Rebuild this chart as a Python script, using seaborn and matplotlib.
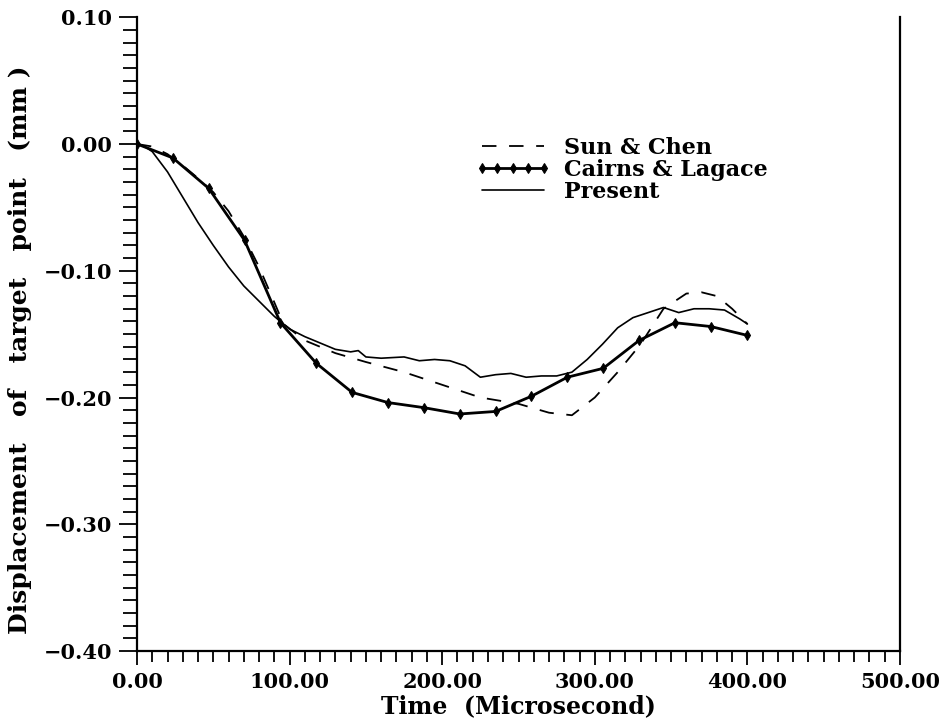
import numpy as np
import pandas as pd
import matplotlib
matplotlib.use("Agg")
import matplotlib.pyplot as plt
from matplotlib.ticker import MultipleLocator, FuncFormatter
import seaborn as sns

# ---- data ----
sun_t = [0, 10, 20, 30, 40, 50, 60, 70, 80, 90, 96, 110, 130, 150, 175, 200, 225,
         250, 270, 285, 300, 315, 330, 345, 360, 370, 380, 390, 400]
sun_v = [0.0, -0.002, -0.008, -0.017, -0.027, -0.038, -0.053, -0.073, -0.097, -0.125,
         -0.142, -0.155, -0.165, -0.172, -0.180, -0.190, -0.200, -0.205, -0.212, -0.214,
         -0.200, -0.180, -0.158, -0.130, -0.118, -0.117, -0.120, -0.130, -0.142]

cairns_t = [0, 23.5, 47, 70.5, 94, 117.5, 141, 164.5, 188, 211.5, 235, 258.5, 282,
            305.5, 329, 352.5, 376, 400]
cairns_v = [0.0, -0.011, -0.035, -0.076, -0.141, -0.173, -0.196, -0.204, -0.208,
            -0.213, -0.211, -0.199, -0.184, -0.177, -0.155, -0.141, -0.144, -0.151]

present_t = [0, 5, 10, 20, 30, 40, 50, 60, 70, 80, 90, 100, 110, 120, 130, 140, 145,
             150, 160, 175, 185, 195, 205, 215, 225, 235, 245, 255, 265, 275, 285, 295,
             305, 315, 325, 335, 345, 355, 365, 375, 385, 395, 400]
present_v = [0.0, -0.002, -0.006, -0.022, -0.042, -0.062, -0.080, -0.097, -0.112,
             -0.124, -0.136, -0.146, -0.152, -0.157, -0.162, -0.164, -0.163, -0.168,
             -0.169, -0.168, -0.171, -0.170, -0.171, -0.175, -0.184, -0.182, -0.181,
             -0.184, -0.183, -0.183, -0.180, -0.170, -0.158, -0.145, -0.137, -0.133,
             -0.129, -0.133, -0.130, -0.130, -0.131, -0.138, -0.142]

labels = ["Sun & Chen", "Cairns & Lagace", "Present"]
x_label = "Time  (Microsecond)"
y_label = "Displacement   of   target   point   (mm )"
x_ticks = [0, 100, 200, 300, 400, 500]
y_ticks = [-0.40, -0.30, -0.20, -0.10, 0.00, 0.10]

sns.set_theme(style="ticks")
plt.rcParams["font.family"] = ["DejaVu Serif"]
plt.rcParams["font.weight"] = "bold"
plt.rcParams["axes.labelweight"] = "bold"
plt.rcParams["text.color"] = "black"
plt.rcParams["axes.labelcolor"] = "black"
plt.rcParams["xtick.color"] = "black"
plt.rcParams["ytick.color"] = "black"

fig = plt.figure(figsize=(9.43, 7.24), dpi=100)
ax = fig.add_axes([137 / 943, 73 / 724, (900 - 137) / 943, (651 - 17.25) / 724])

sns.lineplot(x=sun_t, y=sun_v, ax=ax, color="black", lw=1.3, estimator=None,
             label=labels[0], dashes=False, linestyle=(0, (8, 7)))
sns.lineplot(x=cairns_t, y=cairns_v, ax=ax, color="black", lw=2.0, estimator=None,
             marker="d", markersize=5.5, markeredgecolor="black", label=labels[1])
sns.lineplot(x=present_t, y=present_v, ax=ax, color="black", lw=1.2, estimator=None,
             label=labels[2])

fmt = FuncFormatter(lambda v, pos: f"{v:.2f}".replace("-", "\u2212"))
ax.set_xlim(0, 500)
ax.set_ylim(-0.40, 0.10)
ax.set_xticks(x_ticks)
ax.set_yticks(y_ticks)
ax.xaxis.set_major_formatter(fmt)
ax.yaxis.set_major_formatter(fmt)
ax.xaxis.set_minor_locator(MultipleLocator(10))
ax.yaxis.set_minor_locator(MultipleLocator(0.01))
ax.tick_params(axis="x", which="major", direction="out", length=10, width=1.3,
               labelsize=15, pad=5)
ax.tick_params(axis="x", which="minor", direction="out", length=8, width=1.3)
ax.tick_params(axis="y", which="major", direction="out", length=13, width=1.3,
               labelsize=15, pad=5)
ax.tick_params(axis="y", which="minor", direction="out", length=10, width=1.3)
ax.tick_params(axis="y", which="both", right=False)
ax.tick_params(axis="x", which="both", top=False)
for lab in ax.get_xticklabels() + ax.get_yticklabels():
    lab.set_fontweight("bold")

for side in ["left", "bottom", "right"]:
    ax.spines[side].set_visible(True)
    ax.spines[side].set_color("black")
    ax.spines[side].set_linewidth(1.6)
ax.spines["top"].set_visible(False)

ax.set_xlabel(x_label, fontsize=17, fontweight="bold", labelpad=2)
ax.set_ylabel(y_label, fontsize=18, fontweight="bold")
ax.yaxis.set_label_coords(-0.138, (350 - 651) / -(651 - 17.25), transform=ax.transAxes)

leg = ax.legend(loc="upper left", bbox_to_anchor=(475 / 943, 1 - 137 / 724),
                bbox_transform=fig.transFigure, frameon=False, fontsize=16,
                handlelength=3.4, handletextpad=0.6, labelspacing=0.0,
                borderpad=0, borderaxespad=0, numpoints=5)
for t in leg.get_texts():
    t.set_fontweight("bold")
    t.set_color("black")

fig.savefig("out.png", dpi=100, facecolor="white")
